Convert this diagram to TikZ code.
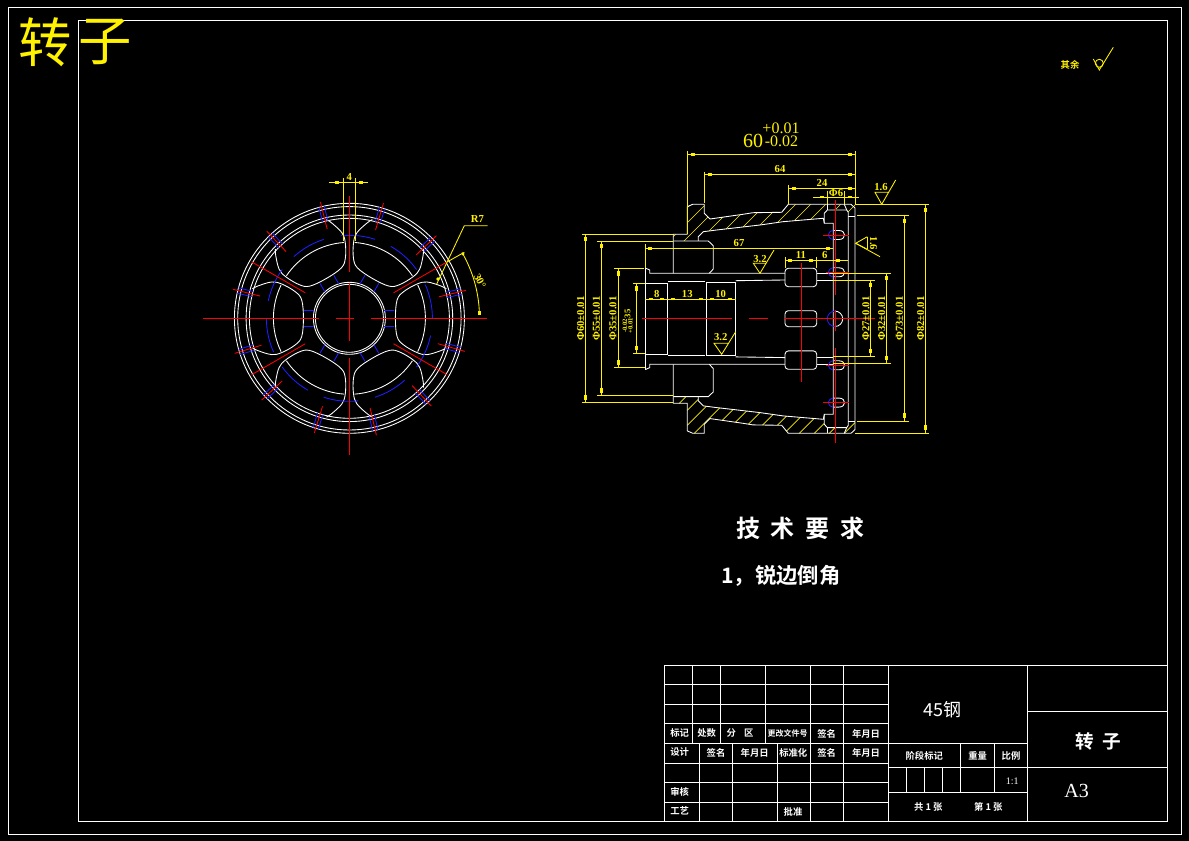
\documentclass[tikz,border=0pt]{standalone}
\usepackage{fontspec}
\setmainfont{Liberation Serif}
\newfontfamily\cjk{Noto Sans CJK SC}
\newfontfamily\cjkb{Noto Sans CJK SC Bold}
\definecolor{cadblue}{RGB}{30,30,255}
\tikzset{
  wl/.style={white,line width=0.65pt},
  bl/.style={cadblue,line width=0.65pt},
  rl/.style={red,line width=0.65pt},
  yl/.style={yellow,line width=0.65pt},
  hatchl/.style={yellow,line width=0.5pt},
  ylab/.style={yellow,font=\bfseries\fontsize{8}{8}\selectfont,inner sep=0pt},
  wlab/.style={white,font=\cjkb\fontsize{7}{7}\selectfont,inner sep=0pt},
}
\newcommand{\mh}[2]{\fill[yellow] (#1-2,#2-1.4) rectangle (#1+2,#2+1.4);}
\newcommand{\mv}[2]{\fill[yellow] (#1-1.4,#2-2.2) rectangle (#1+1.4,#2+2.2);}
\newcommand{\secpoly}{(673.3,241)--(673.3,234.3)--(687.3,234.3)--(687.3,206.7)--(692.7,204.3)--(704.3,204.3)--(704.3,213.3)--(710,219)--(743,214.3)--(753,212.7)--(781.7,212.3)--(788.3,204.3)--(855,204.3)--(855,216)--(848.3,216)--(848.3,212.3)--(846.7,210)--(827.3,210)--(824.3,213.3)--(823.3,218.3)--(783,221.7)--(760,225)--(716.7,230)--(703.3,231.7)--(698.3,236.7)--(698.3,241)--cycle}
\newcommand{\lobe}[1]{%
  \draw[wl] (833.3,#1-4.5)--(839,#1-4.5) .. controls (843,#1-4.5) and (844.5,#1-2) .. (844.5,#1) .. controls (844.5,#1+2) and (843,#1+4.5) .. (839,#1+4.5)--(833.3,#1+4.5);
  \draw[bl] (833.3,#1-4.5) .. controls (830,#1-4) and (828.3,#1-2) .. (828.3,#1) .. controls (828.3,#1+2) and (830,#1+4) .. (833.3,#1+4.5);
}
\newcommand{\halfsec}{%
  \draw[wl] (673.3,273.3)--(673.3,234.3)--(687.3,234.3)--(687.3,206.7)--(692.7,204.3)--(704.3,204.3)--(704.3,213.3)--(710,219)--(743,214.3)--(753,212.7)--(781.7,212.3)--(788.3,204.3)--(851,204.3)--(855,208)--(855,318.8);
  \draw[wl] (673.3,241)--(708.3,241)--(713.3,245.7)--(713.3,269)--(709.3,273.3);
  \draw[wl] (645.3,268)--(649.7,270)--(649.7,273.3)--(785,273.3);
  \draw[wl] (645.3,268)--(645.3,318.8);
  \draw[wl] (698.3,241)--(698.3,236.7)--(703.3,231.7)--(716.7,230)--(760,225)--(783,221.7)--(823.3,218.3)--(824.3,223.3)--(833.3,223.3)--(833.3,318.8);
  \draw[wl] (824.3,223.3)--(824.3,213.3)--(827.3,210)--(846.7,210)--(848.3,212.3)--(848.3,318.8);
  \draw[wl] (848.3,216)--(855,216);
  \draw[wl] (827.3,204.3)--(827.3,210);
  \draw[wl] (844.3,204.3)--(846.7,210);
  \draw[wl] (645.3,283.3)--(667.7,283.3)--(667.7,318.8);
  \draw[wl] (668.3,281.7)--(705,281.7);
  \draw[wl] (706.7,318.8)--(706.7,282.3)--(735.7,282.3)--(735.7,318.8);
  \draw[wl] (735.7,280.7)--(785,280);
  \draw[wl,rounded corners=2.5pt] (785,268.3) rectangle (816.7,286.7);
  \draw[wl] (816.7,273.3)--(833.3,273.3);
  \draw[wl] (816.7,280)--(833.3,280);
  \lobe{235}
  \lobe{272.3}
  \draw[rl] (823,235)--(849,235);
  \draw[rl] (826,272.3)--(849,272.3);
}
\begin{document}
\begin{tikzpicture}[x=0.75pt,y=-0.75pt]
\fill[black] (0,0) rectangle (1189,841);
\useasboundingbox (0,0) rectangle (1189,841);
% frames
\draw[wl] (8,7) rectangle (1181,834);
\draw[wl] (78.3,20.5) rectangle (1167.3,821.3);
% title
\node[yellow,font=\cjk\fontsize{40}{40}\selectfont,inner sep=0pt] at (45.5,42) {转};
\node[yellow,font=\cjk\fontsize{40}{40}\selectfont,inner sep=0pt] at (105.5,42) {子};
% finish note
\node[yellow,font=\cjkb\fontsize{7}{7}\selectfont,inner sep=0pt] at (1070,65) {其余};
\draw[yl] (1093.3,59)--(1099.3,70)--(1113.3,47.3);
\draw[yl] (1099.3,63.3) circle (4);

% ===== front view =====
\begin{scope}[shift={(349.4,318.3)},y=0.75pt]
  \foreach \r in {115,111.7,103.3,100,36,34} \draw[wl] (0,0) circle (\r);
  \foreach \a in {0,60,...,300} {
    \begin{scope}[rotate=\a]
      \draw[wl] plot[smooth,tension=0.6] coordinates {(97,-29.5)(91,-32.5)(77.7,-36.3)(67.7,-34.3)(54.3,-26.7)(47.7,-18.3)(46,0)(47.7,18.3)(54.3,26.7)(67.7,34.3)(77.7,36.3)(91,32.5)(97,29.5)};
      \draw[wl] (-26:76) arc[start angle=-26,end angle=26,radius=76];
      \draw[bl] (35,8)--(45,8);
      \draw[bl] (35,-8)--(45,-8);
    \end{scope}
  }
  \foreach \a in {0,36,...,324} \draw[bl] (\a:83) arc[start angle=\a,end angle=\a+24,radius=83];
  \foreach \a in {13.5,43.5,73.5,104,133.5,166,197,223,253,283,313,344} {
    \begin{scope}[rotate=\a]
      \draw[bl] (100,2.7)--(115,2.7);
      \draw[bl] (100,-2.7)--(115,-2.7);
      \draw[rl] (92,0)--(120,0);
    \end{scope}
  }
  \foreach \a in {30,150,210,330} \draw[rl] (\a:51)--(\a:113);
\end{scope}
\draw[rl] (203.3,318.3)--(319,318.3);
\draw[rl] (336,318.3)--(354,318.3);
\draw[rl] (371,318.3)--(487,318.3);
\draw[rl] (349.4,196)--(349.4,272);
\draw[rl] (349.4,283)--(349.4,341);
\draw[rl] (349.4,358)--(349.4,455);
% front view dimensions
\draw[yl] (343.3,178)--(343.3,241);
\draw[yl] (355,178)--(355,241);
\draw[yl] (329.3,182.3)--(368.3,182.3);
\mh{336.7}{182.3}\mh{361}{182.3}
\node[ylab] at (349.3,177) {4};
\draw[yl] (436.7,284)--(464.3,225.7)--(487.7,225.7);
\fill[yellow] (438,279) circle (1.8);
\node[ylab] at (477.5,219.3) {R7};
\draw[yl] (447,262)--(464.3,252.3);
\draw[yl] (479.4,313) arc[start angle=-2,end angle=-30,radius=130];
\fill[yellow] (463,254) circle (1.6);
\mv{479.4}{313}
\node[ylab,rotate=-62] at (480,281) {30°};

% ===== section view =====
\begin{scope}
  \clip \secpoly;
  \foreach \c in {880,895,...,1090} \draw[hatchl] (\c-300,300)--(\c-100,100);
\end{scope}
\begin{scope}[shift={(0,637.6)},yscale=-1]
  \begin{scope}
    \clip \secpoly;
    \foreach \c in {250,265,...,700} \draw[hatchl] (\c+100,100)--(\c+400,400);
  \end{scope}
  \halfsec
\end{scope}
\halfsec
\draw[wl,rounded corners=2.5pt] (785,310.7) rectangle (816.7,326.7);
\draw[wl] (835,311.1) arc[start angle=-90,end angle=90,radius=7.7];
\draw[bl] (835,311.1) arc[start angle=270,end angle=90,radius=7.7];
% centre lines
\draw[rl] (642,318.3)--(731.7,318.3);
\draw[rl] (749,318.3)--(768,318.3);
\draw[rl] (784.3,318.3)--(875,318.3);
\draw[rl] (801.7,263)--(801.7,381.7);
\draw[rl] (835.3,200)--(835.3,295);
\draw[rl] (835.3,310)--(835.3,331);
\draw[rl] (835.3,348)--(835.3,443);
\draw[rl] (823,402.6)--(849,402.6);
% top dimensions
\draw[yl] (687.3,151)--(687.3,234);
\draw[yl] (855,151)--(855,204.3);
\draw[yl] (687.3,154.3)--(855,154.3);
\mh{693}{154.3}\mh{850}{154.3}
\node[yellow,font=\fontsize{15}{15}\selectfont,inner sep=0pt] at (753,140.5) {60};
\node[yellow,font=\fontsize{12}{12}\selectfont,inner sep=0pt] at (781,128.5) {+0.01};
\node[yellow,font=\fontsize{12}{12}\selectfont,inner sep=0pt] at (781.5,141.5) {-0.02};
\draw[yl] (704.3,171.7)--(704.3,203);
\draw[yl] (704.3,174.3)--(855,174.3);
\mh{710}{174.3}\mh{850}{174.3}
\node[ylab] at (780,169) {64};
\draw[yl] (788.3,185)--(788.3,204.3);
\draw[yl] (788.3,188.3)--(855,188.3);
\mh{794}{188.3}\mh{850}{188.3}
\node[ylab] at (822,183.3) {24};
\draw[yl] (813,197)--(859,197);
\draw[yl] (827.3,191)--(827.3,204.3);
\draw[yl] (844.3,191)--(844.3,204.3);
\mh{821.7}{197}\mh{850}{197}
\node[ylab] at (836,192.7) {Φ6};
% roughness
\draw[yl] (888.3,192.3)--(875,192.3)--(881.7,204.3)--(895.7,180);
\node[ylab] at (881,186.7) {1.6};
\draw[yl] (867.3,236.7)--(855.7,243.3)--(867.3,249.3);
\draw[yl] (867.3,236.7)--(867.3,249.3);
\draw[yl] (855.7,243.3)--(880,256.7);
\node[ylab,rotate=-90] at (873.5,243.5) {1.6};
\draw[yl] (766.7,263.3)--(753.3,263.3)--(760,273.3)--(774,250);
\node[ylab] at (760,259) {3.2};
\draw[yl] (728.3,343.3)--(714,343.3)--(721.7,354.3)--(735.7,331.7);
\node[ylab] at (720.7,336.7) {3.2};
% right dimensions
\draw[yl] (855,204.3)--(929,204.3);
\draw[yl] (855,433.3)--(929,433.3);
\draw[yl] (857,215)--(909,215);
\draw[yl] (857,421)--(909,421);
\draw[yl] (925.3,204.3)--(925.3,433.3);
\mv{925.3}{210}\mv{925.3}{427.7}
\node[ylab,rotate=90] at (920.7,318.5) {Φ82±0.01};
\draw[yl] (904.3,215)--(904.3,421);
\mv{904.3}{221}\mv{904.3}{415.7}
\node[ylab,rotate=90] at (899.3,318.5) {Φ73±0.01};
\draw[yl] (833.3,273.3)--(891,273.3);
\draw[yl] (833.3,363.3)--(891,363.3);
\draw[yl] (886.3,273.3)--(886.3,363.3);
\mv{886.3}{278.3}\mv{886.3}{358.3}
\node[ylab,rotate=90] at (881.7,318.5) {Φ32±0.01};
\draw[yl] (833.3,280)--(875,280);
\draw[yl] (833.3,356.3)--(875,356.3);
\draw[yl] (870.7,280)--(870.7,356.3);
\mv{870.7}{285}\mv{870.7}{351}
\node[ylab,rotate=90] at (866,318.5) {Φ27±0.01};
% internal dimensions
\draw[yl] (645.3,244.3)--(645.3,268);
\draw[yl] (645.3,248.3)--(833.3,248.3);
\mh{650}{248.3}\mh{828.3}{248.3}
\node[ylab] at (739,243.3) {67};
\draw[yl] (785.7,257)--(785.7,268.3);
\draw[yl] (816,257)--(816,268.3);
\draw[yl] (785.7,260.3)--(848.3,260.3);
\mh{790}{260.3}\mh{811}{260.3}\mh{838.3}{260.3}
\node[ylab] at (801,255) {11};
\node[ylab] at (824.7,255) {6};
% left dimensions
\draw[yl] (582,234.3)--(673.3,234.3);
\draw[yl] (582,402.3)--(673.3,402.3);
\draw[yl] (585.7,234.3)--(585.7,402.3);
\mv{585.7}{239.3}\mv{585.7}{397.7}
\node[ylab,rotate=90] at (580.7,318.5) {Φ60±0.01};
\draw[yl] (597,241.3)--(673.3,241.3);
\draw[yl] (597,395.3)--(673.3,395.3);
\draw[yl] (601.7,241.3)--(601.7,395.3);
\mv{601.7}{246}\mv{601.7}{390.5}
\node[ylab,rotate=90] at (596.5,318.5) {Φ55±0.01};
\draw[yl] (614,268.7)--(644,268.7);
\draw[yl] (614,367.3)--(645.3,367.3);
\draw[yl] (618.3,268.7)--(618.3,367.3);
\mv{618.3}{273.5}\mv{618.3}{362.5}
\node[ylab,rotate=90] at (613,318.5) {Φ35±0.01};
\draw[yl] (633.3,283.3)--(645.3,283.3);
\draw[yl] (633.3,353.3)--(645.3,353.3);
\draw[yl] (636.3,283.3)--(636.3,353.3);
\mv{636.3}{288.5}\mv{636.3}{348}
\node[yellow,font=\bfseries\fontsize{6.5}{6.5}\selectfont,inner sep=0pt,rotate=90] at (627.5,314) {35};
\node[yellow,font=\bfseries\fontsize{5.5}{5.5}\selectfont,inner sep=0pt,rotate=90] at (627.5,308) {\phantom{35}};
\node[yellow,font=\bfseries\fontsize{5}{5}\selectfont,inner sep=0pt,rotate=90] at (625,326) {-0.02};
\node[yellow,font=\bfseries\fontsize{5}{5}\selectfont,inner sep=0pt,rotate=90] at (630.5,326) {+0.01};
\draw[yl] (645.3,299)--(735.7,299);
\mh{651}{299}\mh{662}{299}\mh{672.7}{299}\mh{701}{299}\mh{712}{299}\mh{730}{299}
\node[ylab] at (656.7,294) {8};
\node[ylab] at (687.3,294) {13};
\node[ylab] at (720.7,294) {10};

% technical requirements
\node[white,font=\cjkb\fontsize{18}{18}\selectfont,inner sep=0pt] at (800,528) {技\hspace{8pt}术\hspace{8pt}要\hspace{8pt}求};
\node[white,font=\cjkb\fontsize{16}{16}\selectfont,inner sep=0pt] at (781,576) {1，锐边倒角};

% ===== title block =====
\foreach \y in {665.3,684.3,704.3,723.3} \draw[wl] (664.3,\y)--(888.3,\y);
\draw[wl] (664.3,743.3)--(1028.3,743.3);
\foreach \y in {763.3,782.3,802.3} \draw[wl] (664.3,\y)--(888.3,\y);
\draw[wl] (664.3,821.3)--(1167.3,821.3);
\foreach \x in {692.3,720.3,765.3} \draw[wl] (\x,665.3)--(\x,743.3);
\draw[wl] (664.3,665.3)--(664.3,821.3);
\foreach \x in {699.3,732.3,777.3} \draw[wl] (\x,743.3)--(\x,821.3);
\foreach \x in {810.3,843.3} \draw[wl] (\x,665.3)--(\x,821.3);
\draw[wl] (888.3,665.3)--(888.3,821.3);
\draw[wl] (888.3,665.3)--(1167.3,665.3);
\draw[wl] (1027.6,665.3)--(1027.6,821.3);
\draw[wl] (1027.6,711.7)--(1167.3,711.7);
\draw[wl] (888.3,767.3)--(1167.3,767.3);
\draw[wl] (888.3,792.3)--(1028.3,792.3);
\foreach \x in {960.3,994.3} \draw[wl] (\x,743.3)--(\x,792.3);
\foreach \x in {906.3,924.3,942.3} \draw[wl] (\x,767.3)--(\x,792.3);
% title-block text
\node[wlab] at (679.7,733) {标记};
\node[wlab] at (706.7,733) {处数};
\node[wlab] at (740,732.7) {分\hspace{6pt}区};
\node[white,font=\cjkb\fontsize{6}{6}\selectfont,inner sep=0pt] at (787.7,733.7) {更改文件号};
\node[wlab] at (826.7,733.7) {签名};
\node[wlab] at (866,733.7) {年月日};
\node[wlab] at (679.7,752.3) {设计};
\node[wlab] at (716,753.3) {签名};
\node[wlab] at (754.7,753.3) {年月日};
\node[wlab] at (793.3,753.3) {标准化};
\node[wlab] at (826.7,753.3) {签名};
\node[wlab] at (866,753.3) {年月日};
\node[wlab] at (679.7,791.7) {审核};
\node[wlab] at (679.7,810.7) {工艺};
\node[wlab] at (793,812) {批准};
\node[white,font=\cjk\fontsize{13.5}{13.5}\selectfont,inner sep=0pt] at (942.7,709.3) {45钢};
\node[white,font=\cjkb\fontsize{14}{14}\selectfont,inner sep=0pt] at (1098,741.7) {转\hspace{6pt}子};
\node[white,font=\fontsize{15}{15}\selectfont,inner sep=0pt] at (1076.7,791) {A3};
\node[wlab] at (924.3,756) {阶段标记};
\node[wlab] at (977.7,756) {重量};
\node[wlab] at (1011,756) {比例};
\node[white,font=\fontsize{7.5}{7.5}\selectfont,inner sep=0pt] at (1012.3,781) {1:1};
\node[wlab] at (928.3,806.7) {共 1 张};
\node[wlab] at (988.3,806.7) {第 1 张};
\end{tikzpicture}
\end{document}
